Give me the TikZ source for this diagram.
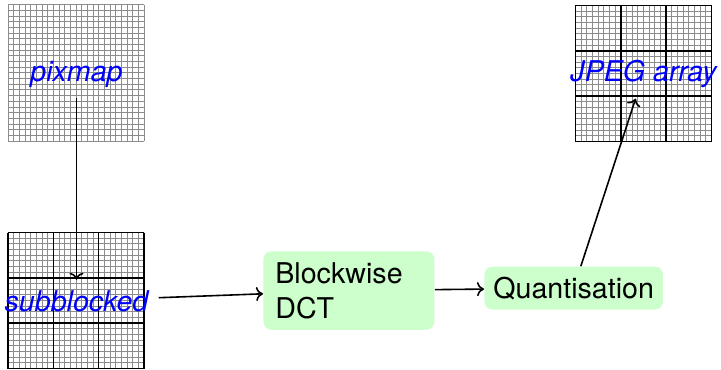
\documentclass[tikz,border=0pt]{standalone}
\usepackage{fontspec}
\setmainfont{TeX Gyre Heros}
\usetikzlibrary{arrows.meta}
\definecolor{boxgreen}{HTML}{CCFFCC}
\definecolor{gridgray}{HTML}{8C8C8C}

\tikzset{
  fineline/.style={draw=gridgray, line width=0.5pt},
  blockline/.style={draw=black, line width=0.75pt},
  lbl/.style={font=\itshape\fontsize{14.3}{17}\selectfont, text=blue, inner sep=5pt},
  stage/.style={fill=boxgreen, rounded corners=4pt, font=\fontsize{14.3}{17.5}\selectfont,
                inner xsep=6pt, inner ysep=5.5pt},
  flow/.style={-{To[length=3.5pt,width=7pt]}, line width=0.8pt},
}

% 24x24 pixel grid of side 136 with its top left corner at (#1,#2)
\newcommand{\pixelgrid}[2]{%
  \foreach \k in {0,...,24} {
    \draw[fineline] ({#1+\k*136/24},#2) -- ++(0,136);
    \draw[fineline] (#1,{#2+\k*136/24}) -- ++(136,0);
  }%
}
% 3x3 block division on top of a pixel grid
\newcommand{\blockgrid}[2]{%
  \foreach \k in {0,...,3} {
    \draw[blockline] ({#1+\k*136/3},#2) -- ++(0,136);
    \draw[blockline] (#1,{#2+\k*136/3}) -- ++(136,0);
  }%
}

\begin{document}
\begin{tikzpicture}[x=0.5pt, y=-0.5pt]
  \useasboundingbox (0,0) rectangle (721,369);

  % grids
  \pixelgrid{8}{5}
  \pixelgrid{8}{232.5}
  \blockgrid{8}{232.5}
  \pixelgrid{575.5}{5.5}
  \blockgrid{575.5}{5.5}

  % labels and stages
  \node[lbl, anchor=base] (pix) at (76.5,82) {pixmap};
  \node[lbl, anchor=base] (sub) at (76.5,311) {subblocked};
  \node[lbl, anchor=base] (jpeg) at (643.5,82) {JPEG array};
  \node[stage, anchor=north west, text width=73.5pt, align=left] (dct) at (263,251) {Blockwise\\DCT};
  \node[stage, anchor=base west, inner xsep=4.5pt, inner ysep=5pt] (quant) at (484,298) {Quantisation};

  % connectors
  \draw[flow] (pix) -- (sub);
  \draw[flow] (sub) -- (dct);
  \draw[flow] (dct) -- (quant);
  \draw[flow] (quant) -- (jpeg);
\end{tikzpicture}
\end{document}
